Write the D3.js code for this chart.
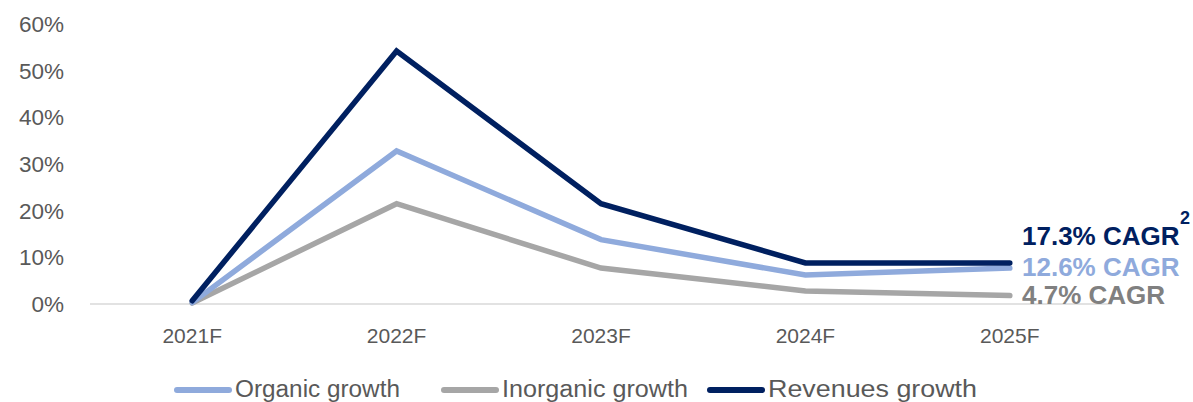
<!DOCTYPE html>
<html>
<head>
<meta charset="utf-8">
<script src="https://cdn.jsdelivr.net/npm/d3@7"></script>
<style>
  html, body { margin: 0; padding: 0; background: #ffffff; }
  svg { display: block; }
</style>
</head>
<body>
<svg id="chart" width="1193" height="402"></svg>
<script>
const categories = ["2021F", "2022F", "2023F", "2024F", "2025F"];
const organic   = [0.003, 0.328, 0.138, 0.062, 0.077];
const inorganic = [0.002, 0.215, 0.077, 0.028, 0.018];
const revenues  = [0.007, 0.542, 0.215, 0.088, 0.088];
const yTicks = [0, 0.1, 0.2, 0.3, 0.4, 0.5, 0.6];
const seriesNames = ["Organic growth", "Inorganic growth", "Revenues growth"];
const cagrLabels = ["12.6% CAGR", "4.7% CAGR", "17.3% CAGR"];
const colors = ["#8faadc", "#a6a6a6", "#002060"];
const cagrColors = ["#8faadc", "#808080", "#002060"];

const svg = d3.select("#chart");
const x = d3.scaleBand().domain(categories).range([90, 1112]);
const y = d3.scaleLinear().domain([0, 0.6]).range([304, 24]);
const cx = d => x(d) + x.bandwidth() / 2;

// baseline
svg.append("line")
  .attr("x1", 90).attr("x2", 1112)
  .attr("y1", y(0)).attr("y2", y(0))
  .attr("stroke", "#d9d9d9").attr("stroke-width", 1.5);

// y ticks
svg.append("g").selectAll("text").data(yTicks).join("text")
  .attr("x", 64).attr("y", d => y(d))
  .attr("dy", "0.36em")
  .attr("text-anchor", "end")
  .attr("font-family", "Liberation Sans, Arial, sans-serif")
  .attr("font-size", 22.5)
  .attr("fill", "#595959")
  .text(d => d3.format(".0%")(d));

// x ticks
svg.append("g").selectAll("text").data(categories).join("text")
  .attr("x", d => cx(d)).attr("y", 343)
  .attr("text-anchor", "middle")
  .attr("font-family", "Liberation Sans, Arial, sans-serif")
  .attr("font-size", 21)
  .attr("fill", "#595959")
  .text(d => d);

const line = d3.line().x((d, i) => cx(categories[i])).y(d => y(d));
const allSeries = [organic, inorganic, revenues];
const drawOrder = [1, 0, 2];
drawOrder.forEach(k => {
  svg.append("path")
    .datum(allSeries[k])
    .attr("d", line)
    .attr("fill", "none")
    .attr("stroke", colors[k])
    .attr("stroke-width", 5.5)
    .attr("stroke-linecap", "round")
    .attr("stroke-linejoin", "miter");
});

// CAGR labels
const cagrY = [276, 304, 245];
cagrLabels.forEach((t, k) => {
  svg.append("text")
    .attr("x", 1022).attr("y", cagrY[k])
    .attr("font-family", "Liberation Sans, Arial, sans-serif")
    .attr("font-weight", "bold")
    .attr("font-size", 26)
    .attr("fill", cagrColors[k])
    .text(t);
});
svg.append("text")
  .attr("x", 1180).attr("y", 224)
  .attr("font-family", "Liberation Sans, Arial, sans-serif")
  .attr("font-weight", "bold")
  .attr("font-size", 18)
  .attr("fill", "#002060")
  .text("2");

// legend
const legX = [174, 441, 707];
const legW = [165, 186, 209];
seriesNames.forEach((n, k) => {
  svg.append("line")
    .attr("x1", legX[k] + 3).attr("x2", legX[k] + 55)
    .attr("y1", 390).attr("y2", 390)
    .attr("stroke", colors[k]).attr("stroke-width", 6)
    .attr("stroke-linecap", "round");
  svg.append("text")
    .attr("x", legX[k] + 61).attr("y", 397)
    .attr("font-family", "Liberation Sans Narrow, Liberation Sans, Arial, sans-serif")
    .attr("font-size", 23)
    .attr("fill", "#595959")
    .attr("textLength", legW[k])
    .attr("lengthAdjust", "spacingAndGlyphs")
    .text(n);
});
</script>
</body>
</html>
